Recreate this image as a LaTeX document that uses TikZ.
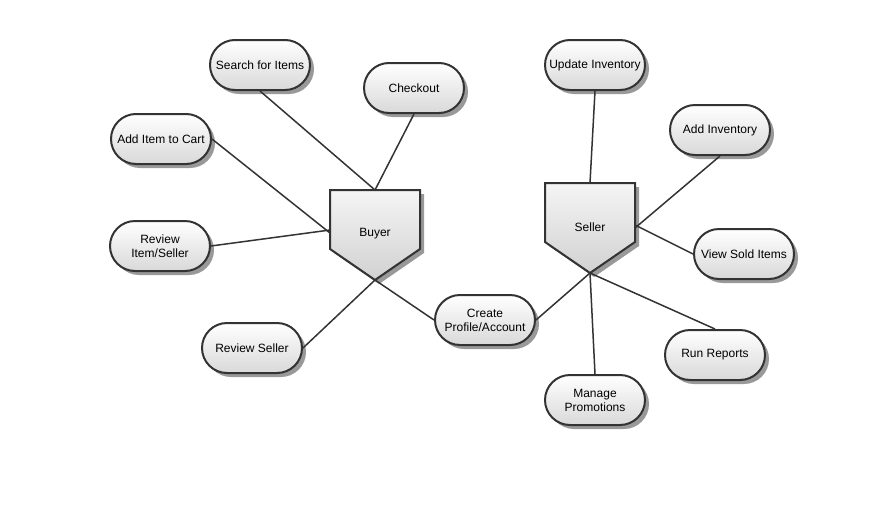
\documentclass[tikz,border=0pt]{standalone}
\usepackage{fontspec}
\setmainfont{Liberation Sans}
\usetikzlibrary{shadows}
\definecolor{edge}{HTML}{333333}
\tikzset{
  usecase/.style={draw=edge, line width=2pt, rounded corners=25pt,
    minimum width=100pt, minimum height=50pt, inner sep=2pt,
    top color=white, bottom color=black!15, align=center,
    font=\fontsize{12}{14}\selectfont,
    drop shadow={shadow xshift=4pt, shadow yshift=-4pt, fill=black!40, opacity=1}},
  actor/.style={draw=edge, line width=2pt, top color=black!4, bottom color=black!18,
    drop shadow={shadow xshift=4pt, shadow yshift=-4pt, fill=black!40, opacity=1}},
  actorlabel/.style={font=\fontsize{12}{14}\selectfont},
  conn/.style={draw=edge, line width=1.5pt}
}
\begin{document}
\begin{tikzpicture}[x=1pt,y=-1pt]
\useasboundingbox (0,0) rectangle (894,525);
% actors
\path[actor] (330,190) -- (420,190) -- (420,249) -- (375,280) -- (330,249) -- cycle;
\path[actor] (545,183) -- (635,183) -- (635,242) -- (590,273) -- (545,242) -- cycle;
\node[actorlabel] (buyer) at (375,234) {Buyer};
\node[actorlabel] (seller) at (590,227) {Seller};
\coordinate (btop) at (375,190);
\coordinate (bleft) at (330,233);
\coordinate (btip) at (375,280);
\coordinate (stop) at (590,183);
\coordinate (sright) at (635,227);
\coordinate (stip) at (590,273);
% use cases
\node[usecase] (search) at (260,65) {Search for Items};
\node[usecase] (checkout) at (414,88) {Checkout};
\node[usecase] (cart) at (161,139) {Add Item to Cart};
\node[usecase] (revitem) at (160,246) {Review\\Item/Seller};
\node[usecase] (revseller) at (252,348) {Review Seller};
\node[usecase] (profile) at (485,320) {Create\\Profile/Account};
\node[usecase] (update) at (595,65) {Update Inventory};
\node[usecase] (addinv) at (720,130) {Add Inventory};
\node[usecase] (sold) at (744,254) {View Sold Items};
\node[usecase] (reports) at (715,355) {Run Reports};
\node[usecase] (promo) at (595,400) {Manage\\Promotions};
% connectors
\draw[conn] (search.south) -- (btop);
\draw[conn] (checkout.south) -- (btop);
\draw[conn] (cart.east) -- (bleft);
\draw[conn] (revitem.east) -- ([yshift=3pt]bleft);
\draw[conn] (revseller.east) -- (btip);
\draw[conn] (profile.west) -- (btip);
\draw[conn] (update.south) -- (stop);
\draw[conn] (addinv.south) -- ([yshift=-1pt]sright);
\draw[conn] (sold.west) -- ([yshift=2pt]sright);
\draw[conn] (reports.north) -- (stip);
\draw[conn] (promo.north) -- (stip);
\draw[conn] (profile.east) -- (stip);
\end{tikzpicture}
\end{document}
